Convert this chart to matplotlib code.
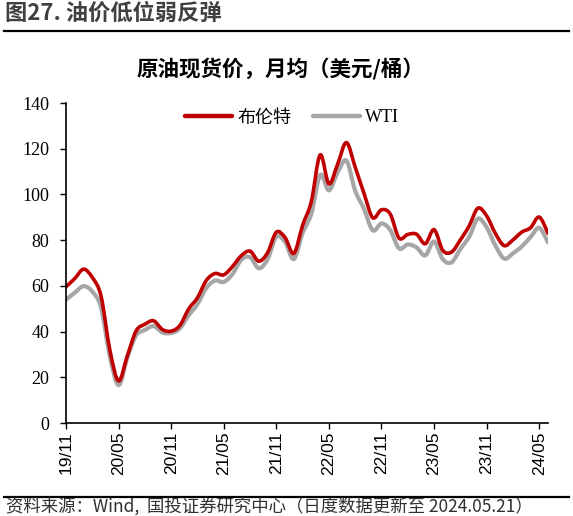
import numpy as np
import matplotlib
matplotlib.use('Agg')
import matplotlib.pyplot as plt
from matplotlib.path import Path
from matplotlib.patches import PathPatch
from matplotlib.lines import Line2D

plt.rcParams['font.family'] = ['Liberation Serif', 'Noto Sans CJK SC', 'DejaVu Sans']

# monthly averages, 2019-10 .. 2024-05
brent = [59.6, 63.2, 67.3,
         63.7, 55.5, 32.0, 18.4, 29.4, 40.3, 43.2, 44.7, 40.9, 40.2, 42.7, 49.9,
         54.8, 62.3, 65.4, 64.8, 68.5, 73.2, 75.2, 70.8, 74.5, 83.5, 81.1, 74.2,
         86.5, 97.0, 117.3, 104.6, 113.3, 122.7, 111.9, 100.5, 89.8, 93.3, 91.4, 80.9,
         82.5, 82.6, 78.4, 84.6, 75.5, 74.8, 80.1, 86.2, 94.0, 90.6, 82.9, 77.6,
         80.1, 83.5, 85.4, 90.1, 83.0]
wti = [54.0, 57.0, 59.9,
       57.5, 50.5, 29.2, 16.6, 28.6, 38.3, 40.7, 42.4, 39.6, 39.4, 41.4, 47.1,
       52.0, 59.0, 62.3, 61.7, 65.2, 71.4, 72.5, 67.7, 71.6, 81.5, 79.2, 71.7,
       83.2, 91.6, 108.5, 101.8, 109.6, 114.8, 101.6, 93.7, 84.3, 87.3, 84.4, 76.4,
       78.1, 76.8, 73.3, 79.4, 71.6, 70.3, 76.1, 81.4, 89.4, 85.6, 77.6, 71.9,
       74.2, 77.2, 81.3, 85.4, 79.0]
tick_labels = ['19/11', '20/05', '20/11', '21/05', '21/11',
               '22/05', '22/11', '23/05', '23/11', '24/05']
yticks = [0, 20, 40, 60, 80, 100, 120, 140]


def smooth_path(y):
    """Excel-style smoothed line: cubic bezier through every data point."""
    pts = np.column_stack([np.arange(len(y)), np.asarray(y, float)])
    verts = [pts[0]]
    codes = [Path.MOVETO]
    n = len(pts)
    for i in range(n - 1):
        p0 = pts[max(i - 1, 0)]
        p1 = pts[i]
        p2 = pts[i + 1]
        p3 = pts[min(i + 2, n - 1)]
        verts += [p1 + (p2 - p0) / 6, p2 - (p3 - p1) / 6, p2]
        codes += [Path.CURVE4] * 3
    return Path(verts, codes)


W, H = 573, 516
fig = plt.figure(figsize=(W / 100, H / 100), dpi=100)
ax = fig.add_axes([66 / W, 1 - 423 / H, (548 - 66) / W, (423 - 103) / H])

red = '#C00000'
grey = '#A6A6A6'
ax.add_patch(PathPatch(smooth_path(wti), fill=False, edgecolor=grey, lw=3.0,
                       capstyle='round', joinstyle='round'))
ax.add_patch(PathPatch(smooth_path(brent), fill=False, edgecolor=red, lw=2.6,
                       capstyle='round', joinstyle='round'))

ax.set_xlim(0, len(brent) - 1)
ax.set_ylim(0, 140)
ax.set_yticks(yticks)
ax.set_xticks(np.arange(0, 6 * len(tick_labels), 6))
ax.set_xticklabels(tick_labels, rotation=90, family='Liberation Sans',
                   fontsize=12.5)
ax.tick_params(axis='y', direction='out', length=4, width=1, pad=8,
               labelsize=13)
ax.tick_params(axis='x', direction='out', length=4, width=1, pad=2)
for side in ['top', 'right']:
    ax.spines[side].set_visible(False)
for side in ['left', 'bottom']:
    ax.spines[side].set_linewidth(1.2)

handles = [Line2D([], [], color=red, lw=3.2, solid_capstyle='round'),
           Line2D([], [], color=grey, lw=3.2, solid_capstyle='round')]
fig.legend(handles, ['布伦特', 'WTI'], loc='center',
           bbox_to_anchor=(292 / W, 1 - 118 / H), ncol=2, frameon=False,
           fontsize=13, handlelength=2.6, handletextpad=0.3,
           columnspacing=1.2)

fig.text(5 / W, 1 - 13 / H, '图27. 油价低位弱反弹', ha='left', va='center',
         fontsize=16, fontweight='bold', color='#404040',
         family=['Noto Sans CJK SC'])
fig.add_artist(Line2D([4 / W, 569 / W], [1 - 31 / H] * 2,
                      transform=fig.transFigure, color='black', lw=1.6))
fig.text(281 / W, 1 - 69 / H, '原油现货价，月均（美元/桶）', ha='center',
         va='center', fontsize=15.5, fontweight='bold', color='black',
         family=['Noto Sans CJK SC'])

fig.add_artist(Line2D([4 / W, 569 / W], [1 - 497 / H] * 2,
                      transform=fig.transFigure, color='black', lw=1.6))
fig.text(6 / W, 1 - 512 / H,
         '资料来源：Wind,  国投证券研究中心（日度数据更新至 2024.05.21）',
         ha='left', va='baseline', fontsize=12.5, color='#303030',
         family=['Noto Sans CJK SC'])

fig.savefig('out.png', dpi=100)
